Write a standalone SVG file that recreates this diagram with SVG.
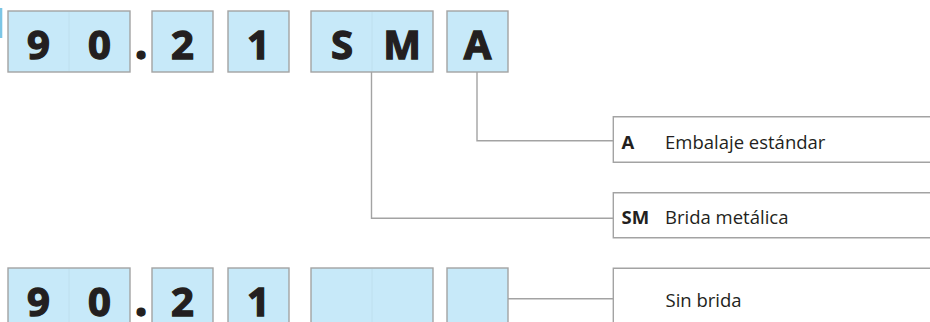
<svg xmlns="http://www.w3.org/2000/svg" width="930" height="322" viewBox="0 0 930 322">
<style>
.box{fill:#c7e9f9;stroke:#a3a3a3;stroke-width:1.4}
.div{stroke:#bcdcec;stroke-width:0.8}
.lbl{fill:#fff;stroke:#a3a3a3;stroke-width:1.4}
.big{font-family:"Open Sans","Noto Sans",sans-serif;font-weight:bold;font-size:40px;fill:#231f20;stroke:#231f20;stroke-width:1.3;text-anchor:middle}
.dot{font-size:46px}
.code{font-family:"Open Sans","Noto Sans",sans-serif;font-weight:bold;font-size:18.5px;fill:#231f20}
.desc{font-family:"Open Sans","Noto Sans",sans-serif;font-size:18.5px;fill:#231f20}
.con{fill:none;stroke:#a3a3a3;stroke-width:1.4}
</style>
<rect x="0" y="8" width="2.3" height="30" fill="#7cc6e6"/>
<g id="top-code">
<g id="t-90"><rect class="box" x="8" y="11" width="122" height="61"/><line class="div" x1="69" y1="12" x2="69" y2="71"/><text class="big" x="38.5" y="59">9</text><text class="big" x="99.5" y="59">0</text></g>
<g id="t-dot"><text class="big dot" x="141" y="59">.</text></g>
<g id="t-2"><rect class="box" x="152" y="11" width="61" height="61"/><text class="big" x="182.5" y="59">2</text></g>
<g id="t-1"><rect class="box" x="228" y="11" width="61" height="61"/><text class="big" x="258.5" y="59">1</text></g>
<g id="t-SM"><rect class="box" x="311" y="11" width="122" height="61"/><line class="div" x1="372" y1="12" x2="372" y2="71"/><text class="big" x="342" y="59">S</text><text class="big" x="402" y="59">M</text></g>
<g id="t-A"><rect class="box" x="447" y="11" width="61" height="61"/><text class="big" x="477.5" y="59">A</text></g>
</g>
<g id="bottom-code">
<g id="b-90"><rect class="box" x="8" y="268" width="122" height="61"/><line class="div" x1="69" y1="269" x2="69" y2="328"/><text class="big" x="38.5" y="316">9</text><text class="big" x="99.5" y="316">0</text></g>
<g id="b-dot"><text class="big dot" x="141" y="316">.</text></g>
<g id="b-2"><rect class="box" x="152" y="268" width="61" height="61"/><text class="big" x="182.5" y="316">2</text></g>
<g id="b-1"><rect class="box" x="228" y="268" width="61" height="61"/><text class="big" x="258.5" y="316">1</text></g>
<g id="b-empty1"><rect class="box" x="311" y="268" width="122" height="61"/><line class="div" x1="372" y1="269" x2="372" y2="328"/></g>
<g id="b-empty2"><rect class="box" x="447" y="268" width="61" height="61"/></g>
</g>
<g id="connectors">
<path class="con" d="M477 72 V140.7 H613.3"/>
<path class="con" d="M371.5 72 V218.3 H613.3"/>
<path class="con" d="M508 298.7 H613.3"/>
</g>
<g id="label-A"><path class="lbl" d="M935 116.7 H613.3 V162.3 H935"/><text class="code" x="621.5" y="148.5">A</text><text class="desc" x="665" y="148.5">Embalaje estándar</text></g>
<g id="label-SM"><path class="lbl" d="M935 192.7 H613.3 V237.7 H935"/><text class="code" x="621.5" y="224">SM</text><text class="desc" x="665" y="224">Brida metálica</text></g>
<g id="label-none"><path class="lbl" d="M935 268.3 H613.3 V330"/><text class="desc" x="665.5" y="306.5">Sin brida</text></g>
</svg>
